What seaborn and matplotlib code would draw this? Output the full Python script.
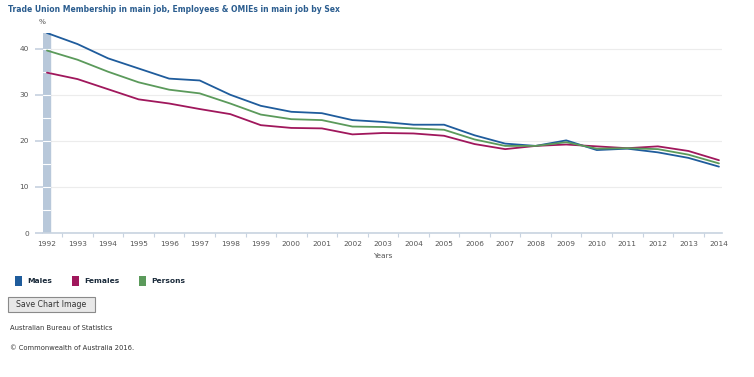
import matplotlib
matplotlib.use("Agg")
import matplotlib.pyplot as plt
from matplotlib.patches import Patch, FancyBboxPatch
import pandas as pd
import seaborn as sns

sns.set_theme(style="white")
plt.rcParams['font.family'] = ['DejaVu Sans']

years = list(range(1992, 2015))
males = [43.4, 41.0, 37.9, 35.7, 33.5, 33.1, 30.0, 27.6, 26.3, 26.0, 24.5, 24.1,
         23.5, 23.5, 21.2, 19.4, 18.9, 20.1, 18.0, 18.3, 17.5, 16.3, 14.4]
females = [34.8, 33.4, 31.2, 29.0, 28.1, 26.9, 25.8, 23.4, 22.8, 22.7, 21.4, 21.7,
           21.6, 21.1, 19.3, 18.2, 18.9, 19.2, 18.8, 18.4, 18.8, 17.8, 15.8]
persons = [39.6, 37.6, 35.0, 32.7, 31.1, 30.3, 28.1, 25.7, 24.7, 24.5, 23.1, 23.0,
           22.7, 22.4, 20.3, 18.9, 18.9, 19.7, 18.3, 18.4, 18.2, 17.0, 15.1]
series = ['Males', 'Females', 'Persons']
colors = ['#1f5c9c', '#a0175c', '#5b9a5b']

df = pd.DataFrame({
    'Year': years * 3,
    'Value': males + females + persons,
    'Sex': [s for s in series for _ in years],
})

fig = plt.figure(figsize=(7.54, 3.77), dpi=100)
ax = fig.add_axes([43 / 754, 1 - 233 / 377, (722 - 43) / 754, 200 / 377])

sns.lineplot(data=df, x='Year', y='Value', hue='Sex', palette=colors,
             hue_order=series, linewidth=1.3, legend=False, ax=ax)

ax.set_xlim(1991.87, 2014.1)
ax.set_ylim(0, 43.4)
ax.set_yticks([0, 10, 20, 30, 40])
ax.set_xticks(years)
ax.set_xticks([y + 0.5 for y in years[:-1]], minor=True)
ax.tick_params(axis='x', which='major', length=0, labelsize=5.3, colors='#555555', pad=6)
ax.tick_params(axis='x', which='minor', length=3, color='#c8d3e0', width=0.8, bottom=True)
ax.tick_params(axis='y', length=6, color='#c8d3e0', labelsize=5.3, colors='#555555', pad=4, left=True)
ax.grid(axis='y', color='#ececec', linewidth=0.8)
ax.set_axisbelow(True)
for side in ['top', 'right', 'left']:
    ax.spines[side].set_visible(False)
ax.spines['bottom'].set_color('#c8d3e0')
ax.spines['bottom'].set_linewidth(1.2)

# range bar on the left
ax.axvspan(1991.87, 1992.1, color='#b8c8da', zorder=1)
for v in range(5, 45, 5):
    ax.plot([1991.87, 1992.1], [v, v], color='white', linewidth=0.8, zorder=1.5)

ax.set_xlabel('Years', fontsize=5.3, color='#555555', labelpad=4)
ax.set_ylabel('')

fig.text(8 / 754, 1 - 10 / 377, 'Trade Union Membership in main job, Employees & OMIEs in main job by Sex',
         fontsize=5.5, fontweight='bold', color='#2b5d8f', va='center', ha='left')
fig.text(42 / 754, 1 - 22 / 377, '%', fontsize=5.3, color='#555555', va='center', ha='center')

handles = [Patch(facecolor=c, edgecolor='none') for c in colors]
fig.legend(handles, series, loc='center left', bbox_to_anchor=(8 / 754, 1 - 281 / 377),
           ncol=3, frameon=False, handlelength=0.95, handleheight=1.6, handletextpad=0.7,
           columnspacing=2.6, prop={'size': 5.4, 'weight': 'bold'}, labelcolor='#1a2a3a')

btn = FancyBboxPatch((8 / 754, 1 - 312 / 377), 87 / 754, 15 / 377,
                     boxstyle='square,pad=0', transform=fig.transFigure,
                     facecolor='#e8e8e8', edgecolor='#8a8a8a', linewidth=0.8)
fig.patches.append(btn)
fig.text(51.5 / 754, 1 - 304.5 / 377, 'Save Chart Image', fontsize=5.6, color='#333333',
         ha='center', va='center')
fig.text(10 / 754, 1 - 328 / 377, 'Australian Bureau of Statistics', fontsize=4.9,
         color='#333333', ha='left', va='center')
fig.text(10 / 754, 1 - 348 / 377, '\u00a9 Commonwealth of Australia 2016.', fontsize=4.9,
         color='#333333', ha='left', va='center')

fig.savefig('out.png', dpi=100)
